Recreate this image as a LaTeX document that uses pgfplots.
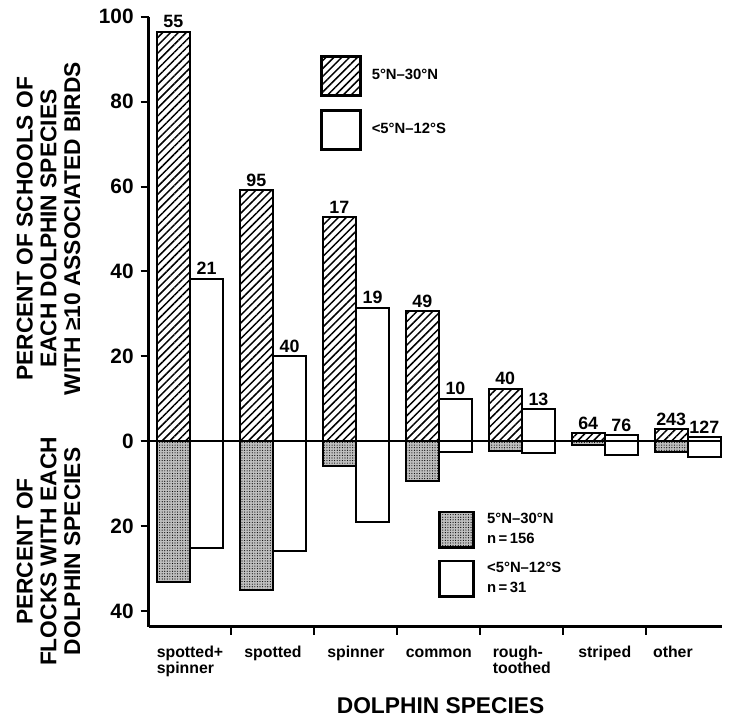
\documentclass[border=0pt]{standalone}
\usepackage{fontspec}
\setmainfont{Liberation Sans}
\usepackage{pgfplots}
\pgfplotsset{compat=1.18}
\usetikzlibrary{patterns.meta}

% bar styles
\tikzset{
  hatchbar/.style={draw=black, line width=1pt, pattern={Lines[angle=45,distance=2.8pt,line width=0.75pt]}},
  whitebar/.style={draw=black, line width=1pt, fill=white},
  dotbar/.style={draw=black, line width=1pt, fill=black!25, postaction={pattern={Dots[distance=1.3pt,radius=0.3pt]}}},
}

\begin{document}
\begin{tikzpicture}
\begin{axis}[
  name=main,
  scale only axis, width=289.5pt, height=308pt,
  xmin=-0.5, xmax=6.41, ymin=-43.7, ymax=100,
  clip=false,
  axis x line*=bottom, axis y line*=left,
  axis line style={line width=1.3pt},
  tick style={line width=1pt, black},
  tick align=outside, major tick length=4pt,
  ybar, bar width=0.4,
  xtick={0.5,1.5,2.5,3.5,4.5,5.5}, xticklabels={},
  extra x ticks={0,1,2,3,4,5,6},
  extra x tick labels={{spotted+\\spinner},spotted,spinner,{\vphantom{d}common},{rough-\\toothed},striped,{other\hspace*{15pt}}},
  extra x tick style={major tick length=0pt},
  xticklabel style={font=\fontsize{8}{8.5}\selectfont\bfseries, align=left, anchor=north, yshift=-6pt},
  ytick={-40,-20,0,20,40,60,80,100},
  yticklabels={40,20,0,20,40,60,80,100},
  yticklabel style={font=\fontsize{10.5}{12}\selectfont\bfseries},
  /pgf/number format/assume math mode=true,
  extra y ticks={0}, extra y tick labels={},
  extra y tick style={grid=major, major grid style={line width=1.1pt, black}},
  legend style={draw=none, fill=none, at={(0.299,0.938)}, anchor=north west,
    inner sep=0pt, row sep=6.5pt, column sep=3pt,
    font=\fontsize{7.5}{9}\selectfont\bfseries, cells={anchor=west}},
  legend image code/.code={\draw[#1, line width=1.5pt] (0pt,-9.75pt) rectangle (19.5pt,9.75pt);},
  nodes near coords style={font=\fontsize{9}{9}\selectfont\bfseries, anchor=south, inner sep=1.5pt},
]
% upper: percent of schools with >=10 birds (n above bars)
\addplot[hatchbar, bar shift=-0.2, nodes near coords, point meta=explicit symbolic]
  coordinates {(0,96.5)[55] (1,59.1)[95] (2,52.8)[17] (3,30.6)[49] (4,12.4)[40] (5,1.9)[64] (6,2.8)[243]};
\addlegendentry{5°N–30°N}
\addplot[whitebar, bar shift=0.2, nodes near coords, point meta=explicit symbolic]
  coordinates {(0,38.3)[21] (1,20.0)[40] (2,31.5)[19] (3,10.0)[10] (4,7.5)[13] (5,1.4)[76] (6,0.9)[127]};
\addlegendentry{<5°N–12°S}
% lower: percent of flocks with each species
\addplot[dotbar, bar shift=-0.2, forget plot]
  coordinates {(0,-33.2) (1,-35.0) (2,-5.8) (3,-9.3) (4,-2.3) (5,-0.9) (6,-2.6)};
\addplot[whitebar, bar shift=0.2, forget plot]
  coordinates {(0,-25.2) (1,-25.9) (2,-19.0) (3,-2.6) (4,-2.8) (5,-3.3) (6,-3.7)};
\end{axis}

% second legend (flocks)
\begin{axis}[
  at={(main.south west)}, anchor=south west,
  scale only axis, width=289.5pt, height=308pt,
  hide axis, xmin=0, xmax=1, ymin=0, ymax=1,
  legend style={draw=none, fill=none, at={(0.504,0.193)}, anchor=north west,
    inner sep=0pt, row sep=4pt, column sep=4pt,
    font=\fontsize{7.5}{10}\selectfont\bfseries, cells={anchor=west, align=left}},
  legend image code/.code={\draw[#1, line width=1.4pt] (0pt,-9pt) rectangle (17.5pt,9pt);},
]
\addlegendimage{dotbar}
\addlegendentry{5°N–30°N\\n\,=\,156}
\addlegendimage{whitebar}
\addlegendentry{<5°N–12°S\\n\,=\,31}
\end{axis}

\begin{scope}[font=\fontsize{11.5}{12}\selectfont\bfseries]
\node[rotate=90, align=center] at ([shift={(-50.5pt,201pt)}]main.south west)
  {PERCENT OF SCHOOLS OF\\EACH DOLPHIN SPECIES\\WITH ≥10 ASSOCIATED BIRDS};
\node[rotate=90, align=center] at ([shift={(-50.5pt,38pt)}]main.south west)
  {PERCENT OF\\FLOCKS WITH EACH\\DOLPHIN SPECIES};
\node at ([shift={(147.5pt,-40pt)}]main.south west) {DOLPHIN SPECIES};
\end{scope}

\path ([shift={(-75pt,-46.5pt)}]main.south west) rectangle ([shift={(0pt,8.5pt)}]main.north east);
\end{tikzpicture}
\end{document}
